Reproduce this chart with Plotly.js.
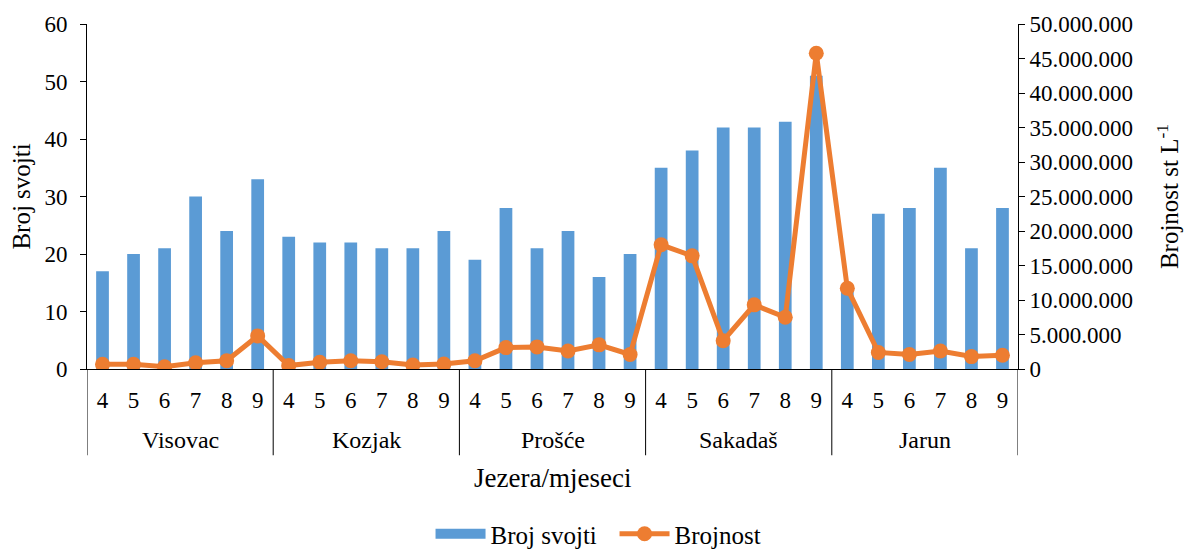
<!DOCTYPE html>
<html>
<head>
<meta charset="utf-8">
<script src="https://cdn.plot.ly/plotly-3.0.1.min.js"></script>
<style>html,body{margin:0;padding:0;background:#fff;}#chart{width:1184px;height:557px;}</style>
</head>
<body>
<div id="chart"></div>
<script>
const lakes = ['Visovac', 'Kozjak', 'Prošće', 'Sakadaš', 'Jarun'];
const months = ['4', '5', '6', '7', '8', '9'];
const brojSvojti = [
  17, 20, 21, 30, 24, 33,
  23, 22, 22, 21, 21, 24,
  19, 28, 21, 24, 16, 20,
  35, 38, 42, 42, 43, 51,
  14, 27, 28, 35, 21, 28
];
const brojnost = [
  680000, 680000, 330000, 900000, 1200000, 4800000,
  500000, 970000, 1200000, 1060000, 580000, 720000,
  1200000, 3100000, 3200000, 2600000, 3500000, 2100000,
  18000000, 16400000, 4100000, 9300000, 7500000, 45750000,
  11700000, 2400000, 2100000, 2600000, 1800000, 2000000
];

// positions on the category axis, built from the arrays
const xIdx = [], tickText = [];
lakes.forEach((l, g) => months.forEach((m, k) => { xIdx.push(g * months.length + k); tickText.push(m); }));
const n = xIdx.length;

const FAM = '"Times New Roman", "Liberation Serif", Tinos, "DejaVu Serif", serif';
const f = (size) => ({family: FAM, size: size, color: '#000'});
const BLUE = '#5B9BD5', ORANGE = '#ED7D31';

const traces = [
  {
    type: 'bar', name: 'Broj svojti', showlegend: false,
    x: xIdx, y: brojSvojti,
    marker: {color: BLUE}, yaxis: 'y'
  },
  { // legend swatch only (wide rectangle like the original legend key)
    type: 'scatter', mode: 'lines', name: 'Broj svojti',
    x: [null], y: [null], yaxis: 'y',
    line: {color: BLUE, width: 10}
  },
  {
    type: 'scatter', mode: 'lines+markers', name: 'Brojnost',
    x: xIdx, y: brojnost, yaxis: 'y2',
    line: {color: ORANGE, width: 5},
    marker: {color: ORANGE, size: 15}
  }
];

const shapes = [];
for (let g = 0; g <= lakes.length; g++) {
  const xv = g * months.length - 0.5;
  shapes.push({type: 'line', xref: 'x', yref: 'paper', x0: xv, x1: xv, y0: 0, y1: -0.25,
               line: {color: '#000', width: 1}});
}
const annotations = lakes.map((l, g) => ({
  text: l, xref: 'x', yref: 'paper', x: g * months.length + (months.length - 1) / 2, y: -0.206,
  xanchor: 'center', yanchor: 'middle', showarrow: false, font: f(24)
}));
annotations.push({text: 'Jezera/mjeseci', xref: 'paper', yref: 'paper', x: 0.5, y: -0.316,
  xanchor: 'center', yanchor: 'middle', showarrow: false, font: f(27)});

const layout = {
  width: 1184, height: 557,
  margin: {l: 87, r: 166, t: 24, b: 188, autoexpand: false},
  paper_bgcolor: '#fff', plot_bgcolor: '#fff',
  separators: ',.',
  font: f(23),
  bargap: 0.59,
  showlegend: true,
  legend: {orientation: 'h', x: 0.369, xanchor: 'left', yref: 'container', y: -0.012, yanchor: 'bottom',
           font: f(25), itemwidth: 50, entrywidth: 119, entrywidthmode: 'pixels', tracegroupgap: 0},
  xaxis: {
    range: [-0.5, n - 0.5], tickvals: xIdx, ticktext: tickText,
    showline: true, linecolor: '#000', linewidth: 1,
    ticks: 'outside', ticklen: 10, tickcolor: 'rgba(0,0,0,0)',
    showgrid: false, zeroline: false, automargin: false,
    tickfont: f(23)
  },
  yaxis: {
    range: [0, 60], dtick: 10, showgrid: false, zeroline: false, automargin: false,
    showline: true, linecolor: '#000', linewidth: 1,
    ticks: 'outside', ticklen: 6, tickcolor: '#000', ticklabelstandoff: 8,
    tickfont: f(23),
    title: {text: 'Broj svojti', font: f(25), standoff: 6}
  },
  yaxis2: {
    overlaying: 'y', side: 'right', automargin: false,
    range: [0, 50000000], dtick: 5000000, tickformat: ',d',
    showgrid: false, zeroline: false,
    showline: true, linecolor: '#000', linewidth: 1,
    ticks: 'outside', ticklen: 6, tickcolor: '#000',
    tickfont: f(23),
    title: {text: 'Brojnost st L<sup>-1</sup>', font: f(25), standoff: 28}
  },
  shapes: shapes,
  annotations: annotations
};

Plotly.newPlot('chart', traces, layout, {displayModeBar: false, staticPlot: true});
</script>
</body>
</html>
